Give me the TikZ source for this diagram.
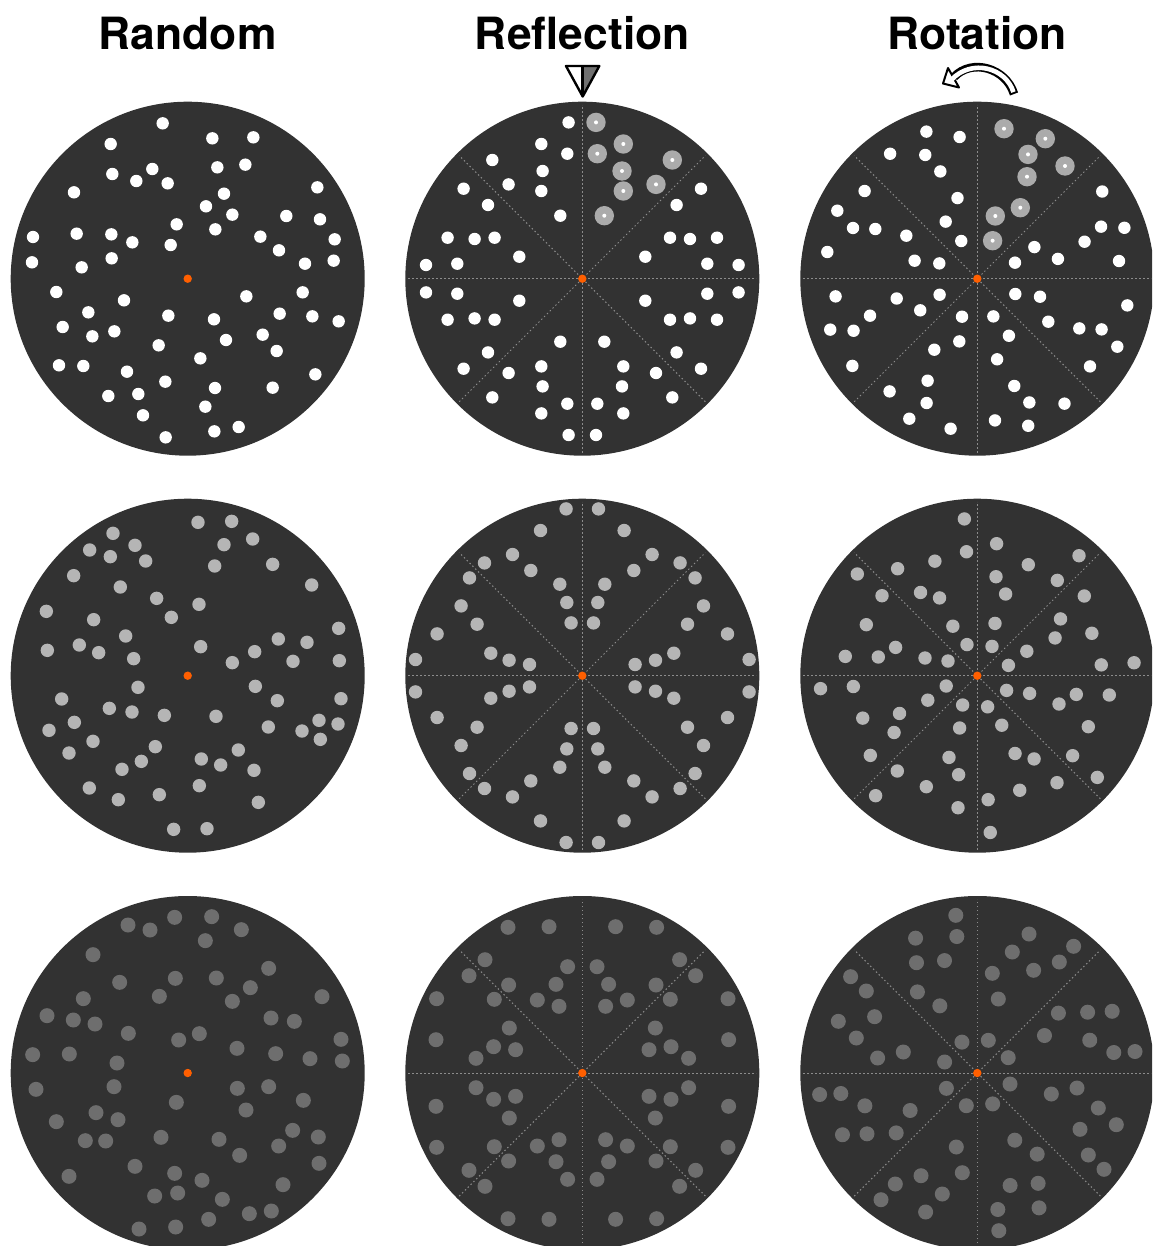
\documentclass[tikz,border=0pt]{standalone}
\usepackage{fontspec}
\setmainfont{TeX Gyre Heros}

\definecolor{discgray}{HTML}{323232}
\definecolor{dotlight}{HTML}{B5B5B5}
\definecolor{dotdark}{HTML}{6E6E6E}
\definecolor{ringgray}{HTML}{ABABAB}
\definecolor{centreorange}{HTML}{FF5F00}
\definecolor{axisgray}{HTML}{8C8C8C}
\definecolor{mirrorgray}{HTML}{707070}

% random patterns (positions in px, measured on a 3x grid)
\def\rndA{488/100, 637/145, 760/142, 332/162, 457/237, 337/252, 409/273, 503/280, 652/232, 736/224, 222/307, 672/311, 618/349, 697/374, 952/292, 859/378, 960/388, 530/403, 646/418, 99/441, 230/431, 334/433, 397/457, 512/465, 781/440, 837/481, 1004/448, 96/517, 245/532, 335/505, 915/521, 1001/512, 169/606, 372/631, 739/619, 908/607, 265/667, 505/677, 642/688, 839/671, 937/679, 1016/694, 188/711, 277/739, 343/724, 678/750, 788/734, 476/766, 830/783, 177/826, 250/828, 601/805, 381/845, 496/875, 946/853, 325/918, 415/912, 645/894, 818/893, 429/976, 616/950, 643/1024, 716/1011, 497/1042}
\def\rndB{594/106, 695/103, 339/139, 269/189, 405/175, 331/209, 437/222, 672/173, 758/156, 644/237, 818/232, 221/266, 361/300, 935/294, 470/334, 597/352, 139/373, 281/398, 514/391, 1016/424, 377/447, 835/456, 921/466, 142/490, 238/474, 296/497, 401/515, 602/479, 764/494, 697/527, 879/523, 1018/521, 414/601, 766/598, 185/636, 832/641, 1023/635, 328/664, 396/675, 493/685, 648/688, 223/706, 957/700, 1014/711, 147/730, 805/720, 906/732, 279/763, 961/757, 466/779, 715/789, 207/798, 424/823, 604/816, 662/834, 366/847, 762/850, 268/903, 598/896, 355/938, 478/923, 775/946, 521/1027, 621/1025}
\def\rndC{384/135, 450/150, 524/112, 635/110, 724/149, 616/182, 279/224, 806/265, 359/307, 526/295, 649/294, 751/323, 478/349, 697/364, 250/356, 966/350, 141/407, 220/420, 285/432, 813/414, 883/424, 385/460, 536/480, 598/461, 711/505, 1023/478, 98/524, 208/522, 351/549, 827/521, 930/536, 1027/543, 108/628, 342/620, 712/625, 806/620, 529/667, 910/661, 288/698, 738/690, 169/725, 354/719, 878/751, 256/782, 317/783, 483/772, 657/778, 955/771, 836/798, 719/826, 405/859, 957/850, 207/889, 524/880, 606/901, 849/914, 464/948, 533/939, 667/958, 748/1001, 814/993, 626/1018, 417/1047, 527/1041}

% one octant of each symmetric pattern (px from the centre)
\def\reflA{13.7/-156.3, 41/-134.7, 15/-125, 39.7/-107.7, 41/-87.7, 90/-118.7, 73.7/-94.3, 22/-63}
\def\reflB{16.2/-166.8, 41.8/-145.2, 69.8/-121.2, 51.5/-105.2, 97.8/-112.8, 22.5/-91.5, 15.5/-73.2, 11.2/-52.8}
\def\reflC{33.3/-146.3, 74.3/-145.7, 14.7/-106.3, 26.3/-88.7, 23.3/-66.7, 45/-73, 73.7/-88, 97.3/-113.3}
\def\rotA{26.7/-150, 68/-140, 50.7/-124.3, 87.7/-112.7, 49.7/-102, 43/-71, 18/-62.7, 15.3/-38}
\def\rotB{19.3/-132, 51/-111, 18.7/-99, 28.3/-81.7, 101.7/-120, 80/-95.3, 17.7/-52.3, 14.7/-29.3}
\def\rotC{51.7/-139, 35/-121, 96.3/-126.7, 82/-111, 56.3/-102.7, 15/-99.7, 21/-74, 11/-32.7}

% octant -> eight mirror images
\newcommand{\mirrordots}[5]{%
  \begin{scope}[shift={(#2,#3)}]
    \foreach \u/\v in #1
      \foreach \sx/\sy in {1/1,-1/1,1/-1,-1/-1} {
        \fill[#4] ({\sx*(\u)},{\sy*(\v)}) circle (#5);
        \fill[#4] ({\sx*(\v)},{\sy*(\u)}) circle (#5);
      }
  \end{scope}}
% octant -> eight turns of 45 degrees
\newcommand{\turndots}[5]{%
  \foreach \k in {0,...,7} {
    \begin{scope}[shift={(#2,#3)}, rotate=\k*45]
      \foreach \u/\v in #1
        \fill[#4] (\u,\v) circle (#5);
    \end{scope}}}

\begin{document}
\begin{tikzpicture}[
    x=0.5pt, y=-0.5pt,
    title/.style={font=\fontsize{22.2}{26}\selectfont\bfseries, anchor=base,
                  inner sep=0pt},
    disc/.style={fill=discgray},
    axis/.style={draw=axisgray, line width=0.5pt, dash pattern=on 0.7pt off 1.3pt},
    centre/.style={fill=centreorange},
    dotA/.style={fill=white},
    dotB/.style={fill=dotlight},
    dotC/.style={fill=dotdark},
    ring/.style={fill=ringgray},
    icon/.style={draw=black, line width=1.2pt, line join=round}
  ]
  \useasboundingbox (0,0) rectangle (1152,1246);
  \clip (0,0) rectangle (1152,1246);

  % column titles
  \node[title] (random) at (187.7,50) {Random};
  \node[title] (reflection) at (582.3,50) {Reflection};
  \node[title] (rotation) at (977.3,50) {Rotation};

  % discs
  \foreach \cx in {187.7,582.3,977.3}
    \foreach \cy in {278.7,675.7,1073}
      \fill[disc] (\cx,\cy) circle (177);

  % symmetry axes
  \foreach \cx in {582.3,977.3}
    \foreach \cy in {278.7,675.7,1073}
      \foreach \a in {0,45,90,135}
        \draw[axis, shift={(\cx,\cy)}, rotate=\a] (-174,0) -- (174,0);

  % random column
  \foreach \u/\v in \rndA \fill[dotA] ({\u/3},{90+\v/3}) circle (6.2);
  \foreach \u/\v in \rndB \fill[dotB] ({\u/3},{487+\v/3}) circle (6.7);
  \foreach \u/\v in \rndC \fill[dotC] ({\u/3},{880+\v/3}) circle (7.5);

  % reflection column
  \mirrordots{\reflA}{582.3}{278.7}{dotA}{6.2}
  \mirrordots{\reflB}{582.3}{675.7}{dotB}{6.7}
  \mirrordots{\reflC}{582.3}{1073}{dotC}{7.5}

  % rotation column
  \turndots{\rotA}{977.3}{278.7}{dotA}{6.2}
  \turndots{\rotB}{977.3}{675.7}{dotB}{6.7}
  \turndots{\rotC}{977.3}{1073}{dotC}{7.5}

  % generating octant, top row
  \begin{scope}[shift={(582.3,278.7)}]
    \foreach \u/\v in \reflA {
      \fill[ring] (\u,\v) circle (9.7);
      \fill[white] (\u,\v) circle (2);
    }
  \end{scope}
  \begin{scope}[shift={(977.3,278.7)}]
    \foreach \u/\v in \rotA {
      \fill[ring] (\u,\v) circle (9.7);
      \fill[white] (\u,\v) circle (2);
    }
  \end{scope}

  % centres
  \foreach \cx in {187.7,582.3,977.3}
    \foreach \cy in {278.7,675.7,1073}
      \fill[centre] (\cx,\cy) circle (4.2);

  % mirror icon
  \coordinate (mirtl) at (566,66);
  \coordinate (mirtm) at (582.7,66);
  \coordinate (mirtr) at (599.3,66);
  \coordinate (mirtip) at (582.7,96.5);
  \fill[white] (mirtl) -- (mirtm) -- (mirtip) -- cycle;
  \fill[mirrorgray] (mirtm) -- (mirtr) -- (mirtip) -- cycle;
  \draw[icon] (mirtl) -- (mirtr) -- (mirtip) -- cycle;
  \draw[icon, line width=1.5pt] (mirtm) -- (mirtip);

  % turn arrow
  \coordinate (arrtail) at (1014,94);
  \coordinate (arrbase) at (954,77);
  \draw[line width=4.3pt] (arrtail) .. controls (1006,68) and (972,58) .. (arrbase);
  \filldraw[fill=white, icon, line width=1pt] (948,68) -- (943,83.5) -- (959,87.5) -- cycle;
  \draw[white, line width=2.3pt, shorten <=1pt, shorten >=-2pt]
    (arrtail) .. controls (1006,68) and (972,58) .. (arrbase);
\end{tikzpicture}
\end{document}
